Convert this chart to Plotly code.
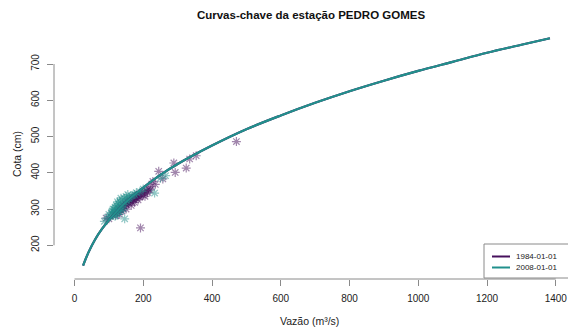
import plotly.graph_objects as go

# Rating curves (Q in m3/s, h in cm)
curve_q = [25, 40, 60, 80, 100, 130, 160, 200, 250, 300, 400, 500, 600, 700,
           800, 900, 1000, 1100, 1200, 1300, 1383]
curve_h_1984 = [144, 179, 216, 245, 269, 301, 328, 359, 394, 424, 475, 520, 558, 593,
                625, 654, 681, 706, 731, 753, 771]
curve_h_2008 = [144, 179, 216, 245, 269, 301, 328, 359, 394, 424, 475, 520, 558, 593,
                625, 654, 681, 706, 731, 753, 771]

# Measurements
obs_q_1984 = [92, 100, 110, 118, 125, 128, 132, 135, 140, 142, 145, 148, 150, 152, 155,
              158, 160, 162, 165, 168, 170, 172, 175, 178, 180, 182, 185, 188, 190, 192,
              195, 198, 200, 205, 210, 215, 220, 223, 228, 235, 245, 257, 289, 293, 325,
              335, 354, 471, 130, 138, 150, 165, 175, 185, 120, 205, 212]
obs_h_1984 = [275, 273, 285, 290, 292, 300, 298, 305, 302, 310, 308, 315, 312, 318, 320,
              316, 322, 325, 320, 328, 330, 326, 332, 335, 330, 338, 335, 340, 333, 248,
              342, 345, 338, 348, 350, 355, 352, 362, 376, 368, 404, 383, 427, 401, 413,
              438, 447, 486, 285, 295, 300, 310, 318, 325, 282, 335, 345]
obs_q_2008 = [87, 95, 100, 105, 108, 110, 112, 115, 116, 118, 120, 122, 124, 125, 127,
              128, 130, 132, 134, 135, 138, 140, 142, 145, 146, 148, 150, 152, 155, 158,
              160, 165, 170, 175, 180, 190, 200, 233, 250, 265, 118, 112, 125, 135]
obs_h_2008 = [266, 275, 285, 280, 290, 295, 283, 300, 288, 305, 293, 310, 298, 285, 315,
              302, 292, 320, 308, 296, 325, 312, 300, 330, 273, 318, 335, 322, 340, 328,
              332, 336, 338, 340, 345, 348, 355, 344, 385, 392, 280, 300, 320, 330]

series_names = ["1984-01-01", "2008-01-01"]
x_ticks = [0, 200, 400, 600, 800, 1000, 1200, 1400]
y_ticks = [200, 300, 400, 500, 600, 700]

purple = "#46105C"
teal = "#21908C"
purple_a = "rgba(70,16,92,0.5)"
teal_a = "rgba(33,144,140,0.5)"
axis_gray = "#8a8a8a"
text_col = "#222222"
FONT = "Liberation Sans, Arial, sans-serif"

# figure fills the 568x331 window (body margin removed in post_script)
W, H = 568, 331
# plot area in window pixels
PL, PR, PT, PB = 54, 563, 30, 279
L, R, T, B = PL, W - PR, PT, H - PB
PW, PH = W - L - R, H - T - B


def px(xw):
    return (xw - PL) / PW


def py(yw):
    return (PB - yw) / PH


fig = go.Figure()
fig.add_trace(go.Scatter(x=obs_q_1984, y=obs_h_1984, mode="markers", showlegend=False,
                         marker=dict(symbol="asterisk-open", size=7.5, color=purple_a,
                                     line=dict(color=purple_a, width=1.2))))
fig.add_trace(go.Scatter(x=obs_q_2008, y=obs_h_2008, mode="markers", showlegend=False,
                         marker=dict(symbol="asterisk-open", size=7.5, color=teal_a,
                                     line=dict(color=teal_a, width=1.2))))
fig.add_trace(go.Scatter(x=curve_q, y=curve_h_1984, mode="lines", name=series_names[0],
                         showlegend=False,
                         line=dict(color=purple, width=2.2, shape="spline")))
fig.add_trace(go.Scatter(x=curve_q, y=curve_h_2008, mode="lines", name=series_names[1],
                         showlegend=False,
                         line=dict(color=teal, width=2.2, shape="spline")))

# R-style axis lines spanning only tick range
fig.add_shape(type="line", xref="x", yref="paper", x0=x_ticks[0], x1=x_ticks[-1],
              y0=0, y1=0, line=dict(color=axis_gray, width=1))
fig.add_shape(type="line", xref="paper", yref="y", x0=0, x1=0,
              y0=y_ticks[0], y1=y_ticks[-1], line=dict(color=axis_gray, width=1))

# manual R-style legend
fig.add_shape(type="rect", xref="paper", yref="paper", x0=px(484), x1=px(580),
              y0=py(278), y1=py(244), line=dict(color=axis_gray, width=1),
              fillcolor="white", layer="above")
for i, (name, col) in enumerate(zip(series_names, [purple, teal])):
    yy = 256.5 + 11 * i
    fig.add_shape(type="line", xref="paper", yref="paper", x0=px(492), x1=px(510),
                  y0=py(yy), y1=py(yy), line=dict(color=col, width=2), layer="above")
    fig.add_annotation(text=name, xref="paper", yref="paper", x=px(514), y=py(yy),
                       xanchor="left", yanchor="middle", showarrow=False,
                       font=dict(size=8, color=text_col))

# axis titles
fig.add_annotation(text="Vazão (m³/s)", xref="paper", yref="paper", x=px(309), y=py(321),
                   xanchor="center", yanchor="middle", showarrow=False,
                   font=dict(size=10.5, color=text_col))
fig.add_annotation(text="Cota (cm)", xref="paper", yref="paper", x=px(17), y=py(154),
                   xanchor="center", yanchor="middle", showarrow=False, textangle=-90,
                   font=dict(size=10.5, color=text_col))

fig.update_layout(
    width=W, height=H,
    margin=dict(l=L, r=R, t=T, b=B),
    paper_bgcolor="white", plot_bgcolor="white",
    font=dict(family=FONT, color=text_col, size=10),
    title=dict(text="<b>Curvas-chave da estação PEDRO GOMES</b>", x=px(311), xanchor="center",
               xref="paper", y=1 - 15 / H, yanchor="middle",
               font=dict(size=11.5, color="#111111")),
    xaxis=dict(range=[-59.6, 1421], tickvals=x_ticks, ticks="outside", ticklen=6,
               tickcolor=axis_gray, showgrid=False, zeroline=False, showline=False,
               automargin=False, tickfont=dict(size=10), ticklabelstandoff=4,
               ticklabeloverflow="allow"),
    yaxis=dict(range=[107, 793.8], tickvals=y_ticks, ticks="outside", ticklen=6,
               tickcolor=axis_gray, showgrid=False, zeroline=False, showline=False,
               automargin=False, tickangle=-90, tickfont=dict(size=10), ticklabelstandoff=4),
    showlegend=False,
)

fig.write_html(
    "out.html",
    config={"displayModeBar": False},
    post_script="document.body.style.margin='0';document.body.style.overflow='hidden';",
)
